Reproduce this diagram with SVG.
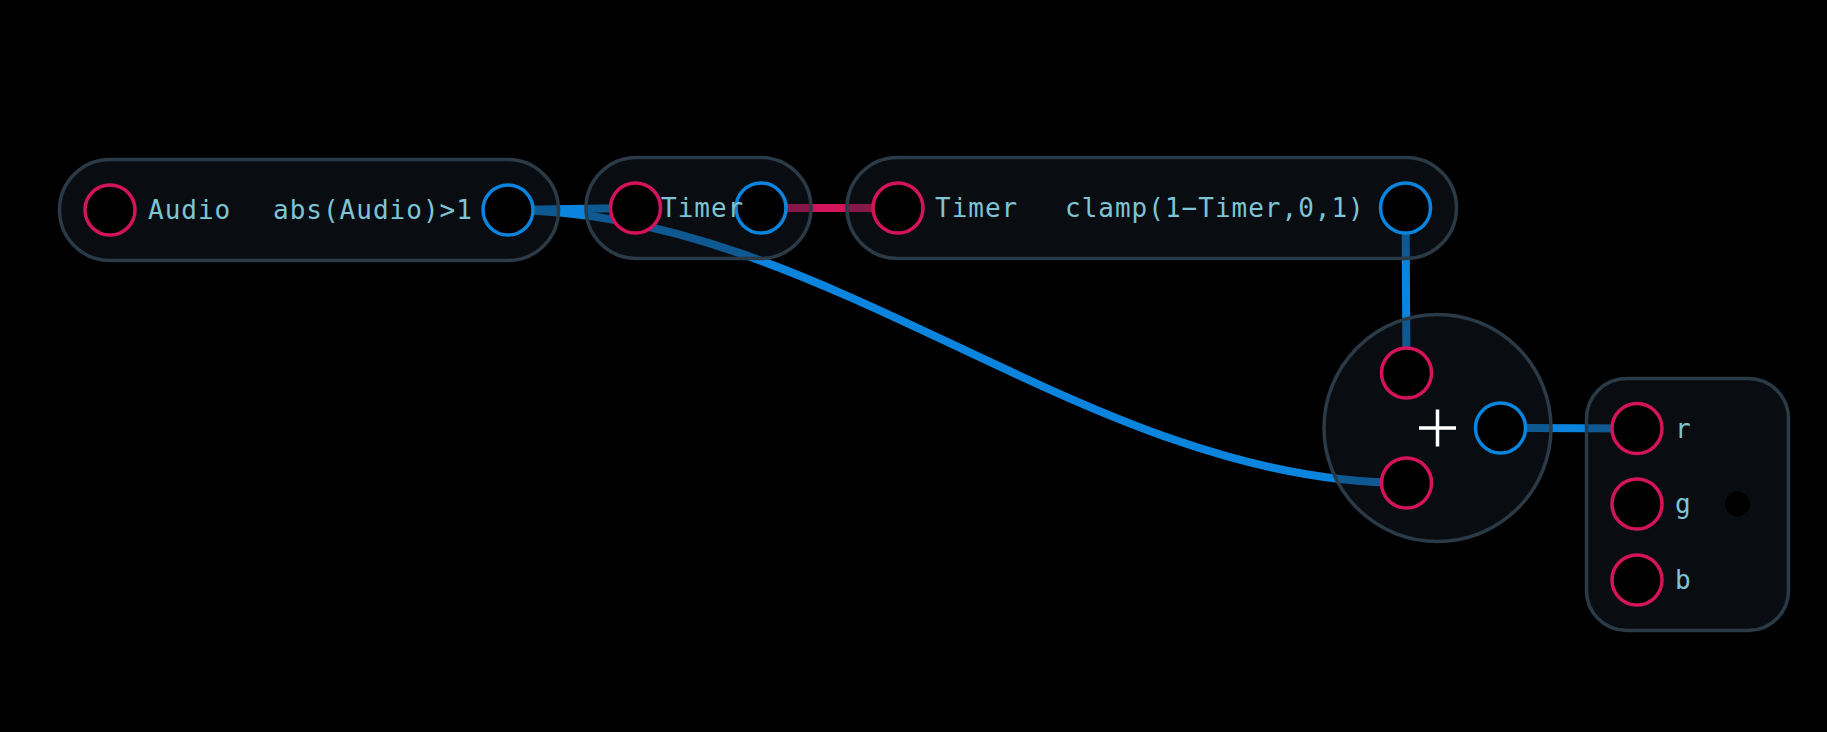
<svg xmlns="http://www.w3.org/2000/svg" width="1827" height="732" viewBox="0 0 1827 732">
<style>
.node{fill:rgba(22,32,44,0.42);stroke:#2b3a47;stroke-width:3.5}
.pin{fill:#000;stroke:#d4145a;stroke-width:3.5}
.pout{fill:#000;stroke:#0a84dc;stroke-width:3.5}
.lbl{fill:#7ec4d4;font-family:"DejaVu Sans Mono",monospace;font-size:26px;letter-spacing:1px}
.wb{fill:none;stroke:#0a84dc;stroke-width:8}
.wr{fill:none;stroke:#d4145a;stroke-width:8}
</style>
<rect width="1827" height="732" fill="#000"/>
<g id="connectors">
<path class="wb" d="M508,210 L635,208"/>
<path class="wb" d="M508,210 C828,210 1086,483 1406.5,483"/>
<path class="wr" d="M761,208 L898,208"/>
<path class="wb" d="M1405.5,208 L1406.5,373"/>
<path class="wb" d="M1500.5,428 L1637,428.5"/>
</g>
<g id="node-audio">
<rect class="node" x="59.5" y="159.5" width="499" height="101" rx="50.5"/>
<circle class="pin" cx="110" cy="210" r="25"/>
<circle class="pout" cx="508" cy="210" r="25"/>
<text class="lbl" x="148" y="219">Audio</text>
<text class="lbl" x="273" y="219">abs(Audio)&gt;1</text>
</g>
<g id="node-timer">
<rect class="node" x="586" y="157.5" width="225" height="101" rx="50.5"/>
<circle class="pin" cx="635.5" cy="208" r="25"/>
<circle class="pout" cx="761" cy="208" r="25"/>
<text class="lbl" x="661" y="217">Timer</text>
</g>
<g id="node-clamp">
<rect class="node" x="847" y="157.5" width="609.5" height="101" rx="50.5"/>
<circle class="pin" cx="898" cy="208" r="25"/>
<circle class="pout" cx="1405.5" cy="208" r="25"/>
<text class="lbl" x="935" y="217">Timer</text>
<text class="lbl" x="1065" y="217">clamp(1−Timer,0,1)</text>
</g>
<g id="node-add">
<circle class="node" cx="1437.5" cy="428" r="113.5"/>
<path d="M1419,428 H1456 M1437.5,409.5 V446.5" stroke="#ffffff" stroke-width="3.5" fill="none"/>
<circle class="pin" cx="1406.5" cy="373" r="25"/>
<circle class="pin" cx="1406.5" cy="483" r="25"/>
<circle class="pout" cx="1500.5" cy="428" r="25"/>
</g>
<g id="node-rgb">
<rect class="node" x="1586.5" y="378.5" width="202" height="252" rx="40"/>
<circle class="pin" cx="1637" cy="428.5" r="25"/>
<circle class="pin" cx="1637" cy="504" r="25"/>
<circle class="pin" cx="1637" cy="580" r="25"/>
<text class="lbl" x="1675" y="437.5">r</text>
<text class="lbl" x="1675" y="513">g</text>
<text class="lbl" x="1675" y="589">b</text>
<circle cx="1737.5" cy="504" r="12.5" fill="#000"/>
</g>
</svg>
